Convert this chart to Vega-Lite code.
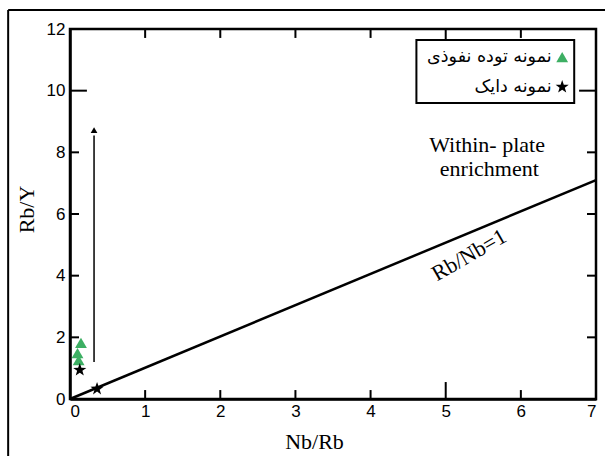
{
  "$schema": "https://vega.github.io/schema/vega-lite/v6.json",
  "autosize": {"type": "none"},
  "padding": {"left": 70, "top": 29, "right": 9, "bottom": 57},
  "width": 526,
  "height": 370,
  "background": "white",
  "config": {
    "view": {"stroke": "black", "strokeWidth": 2.5},
    "axis": {"grid": false, "domainColor": "black", "domainWidth": 2.5, "labelFont": "Liberation Sans", "labelFontSize": 17, "labelColor": "black", "titleFont": "Liberation Serif", "titleFontSize": 22, "titleFontWeight": "normal", "titleColor": "black"}
  },
  "datasets": {
    "samples": [
      {"nbrb": 0.146, "rby": 1.82, "type": "نمونه توده  نفوذی"},
      {"nbrb": 0.10, "rby": 1.49, "type": "نمونه توده  نفوذی"},
      {"nbrb": 0.115, "rby": 1.26, "type": "نمونه توده  نفوذی"},
      {"nbrb": 0.13, "rby": 0.94, "type": "نمونه دایک"},
      {"nbrb": 0.36, "rby": 0.33, "type": "نمونه دایک"}
    ],
    "frame": [
      {"x": -0.823, "x2": -0.823, "y": -2.0, "y2": 12.62},
      {"x": -0.823, "x2": 7.3, "y": 12.62, "y2": 12.62}
    ],
    "ticks": [
      {"x": 1, "x2": 1, "y": 0, "y2": 0.29}, {"x": 2, "x2": 2, "y": 0, "y2": 0.29}, {"x": 3, "x2": 3, "y": 0, "y2": 0.29}, {"x": 4, "x2": 4, "y": 0, "y2": 0.29}, {"x": 5, "x2": 5, "y": 0, "y2": 0.55}, {"x": 6, "x2": 6, "y": 0, "y2": 0.29},
      {"x": 1, "x2": 1, "y": 12, "y2": 11.71}, {"x": 2, "x2": 2, "y": 12, "y2": 11.71}, {"x": 3, "x2": 3, "y": 12, "y2": 11.71}, {"x": 4, "x2": 4, "y": 12, "y2": 11.71}, {"x": 5, "x2": 5, "y": 12, "y2": 11.45}, {"x": 6, "x2": 6, "y": 12, "y2": 11.71},
      {"x": 0, "x2": 0.12, "y": 2, "y2": 2}, {"x": 0, "x2": 0.12, "y": 4, "y2": 4}, {"x": 0, "x2": 0.12, "y": 6, "y2": 6}, {"x": 0, "x2": 0.12, "y": 8, "y2": 8}, {"x": 0, "x2": 0.225, "y": 10, "y2": 10},
      {"x": 7, "x2": 6.88, "y": 2, "y2": 2}, {"x": 7, "x2": 6.88, "y": 4, "y2": 4}, {"x": 7, "x2": 6.88, "y": 6, "y2": 6}, {"x": 7, "x2": 6.88, "y": 8, "y2": 8}, {"x": 7, "x2": 6.775, "y": 10, "y2": 10}
    ],
    "refline": [{"x": 0, "x2": 7, "y": 0, "y2": 7.1}],
    "arrow": [{"x": 0.32, "x2": 0.32, "y": 1.2, "y2": 8.55}],
    "arrowhead": [{"x": 0.32, "y": 8.72}],
    "legendbox": [{"x": 4.61, "x2": 6.71, "y": 11.64, "y2": 9.6}],
    "legenditems": [
      {"x": 6.55, "y": 11.09, "lx": 6.41, "type": "نمونه توده  نفوذی"},
      {"x": 6.55, "y": 10.12, "lx": 6.41, "type": "نمونه دایک"}
    ],
    "notes": [
      {"x": 5.55, "y": 8.24, "text": "Within- plate", "angle": 0},
      {"x": 5.58, "y": 7.46, "text": "enrichment", "angle": 0},
      {"x": 5.31, "y": 4.67, "text": "Rb/Nb=1", "angle": -30}
    ]
  },
  "layer": [
    {
      "data": {"name": "frame"},
      "mark": {"type": "rule", "color": "black", "strokeWidth": 2, "clip": false},
      "encoding": {
        "x": {"field": "x", "type": "quantitative", "scale": {"domain": [0, 7], "nice": false}, "axis": {"orient": "bottom", "values": [0, 1, 2, 3, 4, 5, 6, 7], "format": "d", "ticks": false, "tickSize": 0, "labelPadding": 4, "title": "Nb/Rb", "titleX": 244, "titleY": 42, "titleBaseline": "middle", "titleAnchor": null}},
        "x2": {"field": "x2"},
        "y": {"field": "y", "type": "quantitative", "scale": {"domain": [0, 12], "nice": false}, "axis": {"orient": "left", "values": [0, 2, 4, 6, 8, 10, 12], "format": "d", "ticks": false, "tickSize": 0, "labelPadding": 5, "title": "Rb/Y", "titleX": -44, "titleY": 180, "titleBaseline": "middle", "titleAnchor": null}},
        "y2": {"field": "y2"}
      }
    },
    {
      "data": {"name": "ticks"},
      "mark": {"type": "rule", "color": "black", "strokeWidth": 2},
      "encoding": {
        "x": {"field": "x", "type": "quantitative"},
        "x2": {"field": "x2"},
        "y": {"field": "y", "type": "quantitative"},
        "y2": {"field": "y2"}
      }
    },
    {
      "data": {"name": "refline"},
      "mark": {"type": "rule", "color": "black", "strokeWidth": 2.5},
      "encoding": {
        "x": {"field": "x", "type": "quantitative"},
        "x2": {"field": "x2"},
        "y": {"field": "y", "type": "quantitative"},
        "y2": {"field": "y2"}
      }
    },
    {
      "data": {"name": "arrow"},
      "mark": {"type": "rule", "color": "black", "strokeWidth": 1.5},
      "encoding": {
        "x": {"field": "x", "type": "quantitative"},
        "x2": {"field": "x2"},
        "y": {"field": "y", "type": "quantitative"},
        "y2": {"field": "y2"}
      }
    },
    {
      "data": {"name": "arrowhead"},
      "mark": {"type": "point", "shape": "triangle-up", "filled": true, "color": "black", "size": 45, "opacity": 1},
      "encoding": {
        "x": {"field": "x", "type": "quantitative"},
        "y": {"field": "y", "type": "quantitative"}
      }
    },
    {
      "data": {"name": "samples"},
      "mark": {"type": "point", "filled": true, "opacity": 1},
      "encoding": {
        "x": {"field": "nbrb", "type": "quantitative"},
        "y": {"field": "rby", "type": "quantitative"},
        "shape": {"field": "type", "type": "nominal", "scale": {"domain": ["نمونه توده  نفوذی", "نمونه دایک"], "range": ["triangle-up", "M0,-1L0.235,-0.324L0.951,-0.309L0.380,0.124L0.588,0.809L0,0.4L-0.588,0.809L-0.380,0.124L-0.951,-0.309L-0.235,-0.324Z"]}, "legend": null},
        "color": {"field": "type", "type": "nominal", "scale": {"domain": ["نمونه توده  نفوذی", "نمونه دایک"], "range": ["#3daf63", "#000000"]}, "legend": null},
        "size": {"field": "type", "type": "nominal", "scale": {"domain": ["نمونه توده  نفوذی", "نمونه دایک"], "range": [140, 190]}, "legend": null}
      }
    },
    {
      "data": {"name": "legendbox"},
      "mark": {"type": "rect", "fill": "white", "stroke": "black", "strokeWidth": 2},
      "encoding": {
        "x": {"field": "x", "type": "quantitative"},
        "x2": {"field": "x2"},
        "y": {"field": "y", "type": "quantitative"},
        "y2": {"field": "y2"}
      }
    },
    {
      "data": {"name": "legenditems"},
      "mark": {"type": "point", "filled": true, "opacity": 1},
      "encoding": {
        "x": {"field": "x", "type": "quantitative"},
        "y": {"field": "y", "type": "quantitative"},
        "shape": {"field": "type", "type": "nominal", "legend": null},
        "color": {"field": "type", "type": "nominal", "legend": null},
        "size": {"field": "type", "type": "nominal", "legend": null}
      }
    },
    {
      "data": {"name": "legenditems"},
      "mark": {"type": "text", "align": "right", "baseline": "middle", "font": "DejaVu Sans", "fontSize": 17.5, "color": "black"},
      "encoding": {
        "x": {"field": "lx", "type": "quantitative"},
        "y": {"field": "y", "type": "quantitative"},
        "text": {"field": "type"}
      }
    },
    {
      "data": {"name": "notes"},
      "mark": {"type": "text", "align": "center", "baseline": "middle", "font": "Liberation Serif", "fontSize": 22, "color": "black"},
      "encoding": {
        "x": {"field": "x", "type": "quantitative"},
        "y": {"field": "y", "type": "quantitative"},
        "text": {"field": "text"},
        "angle": {"field": "angle", "type": "quantitative", "scale": null}
      }
    }
  ]
}
